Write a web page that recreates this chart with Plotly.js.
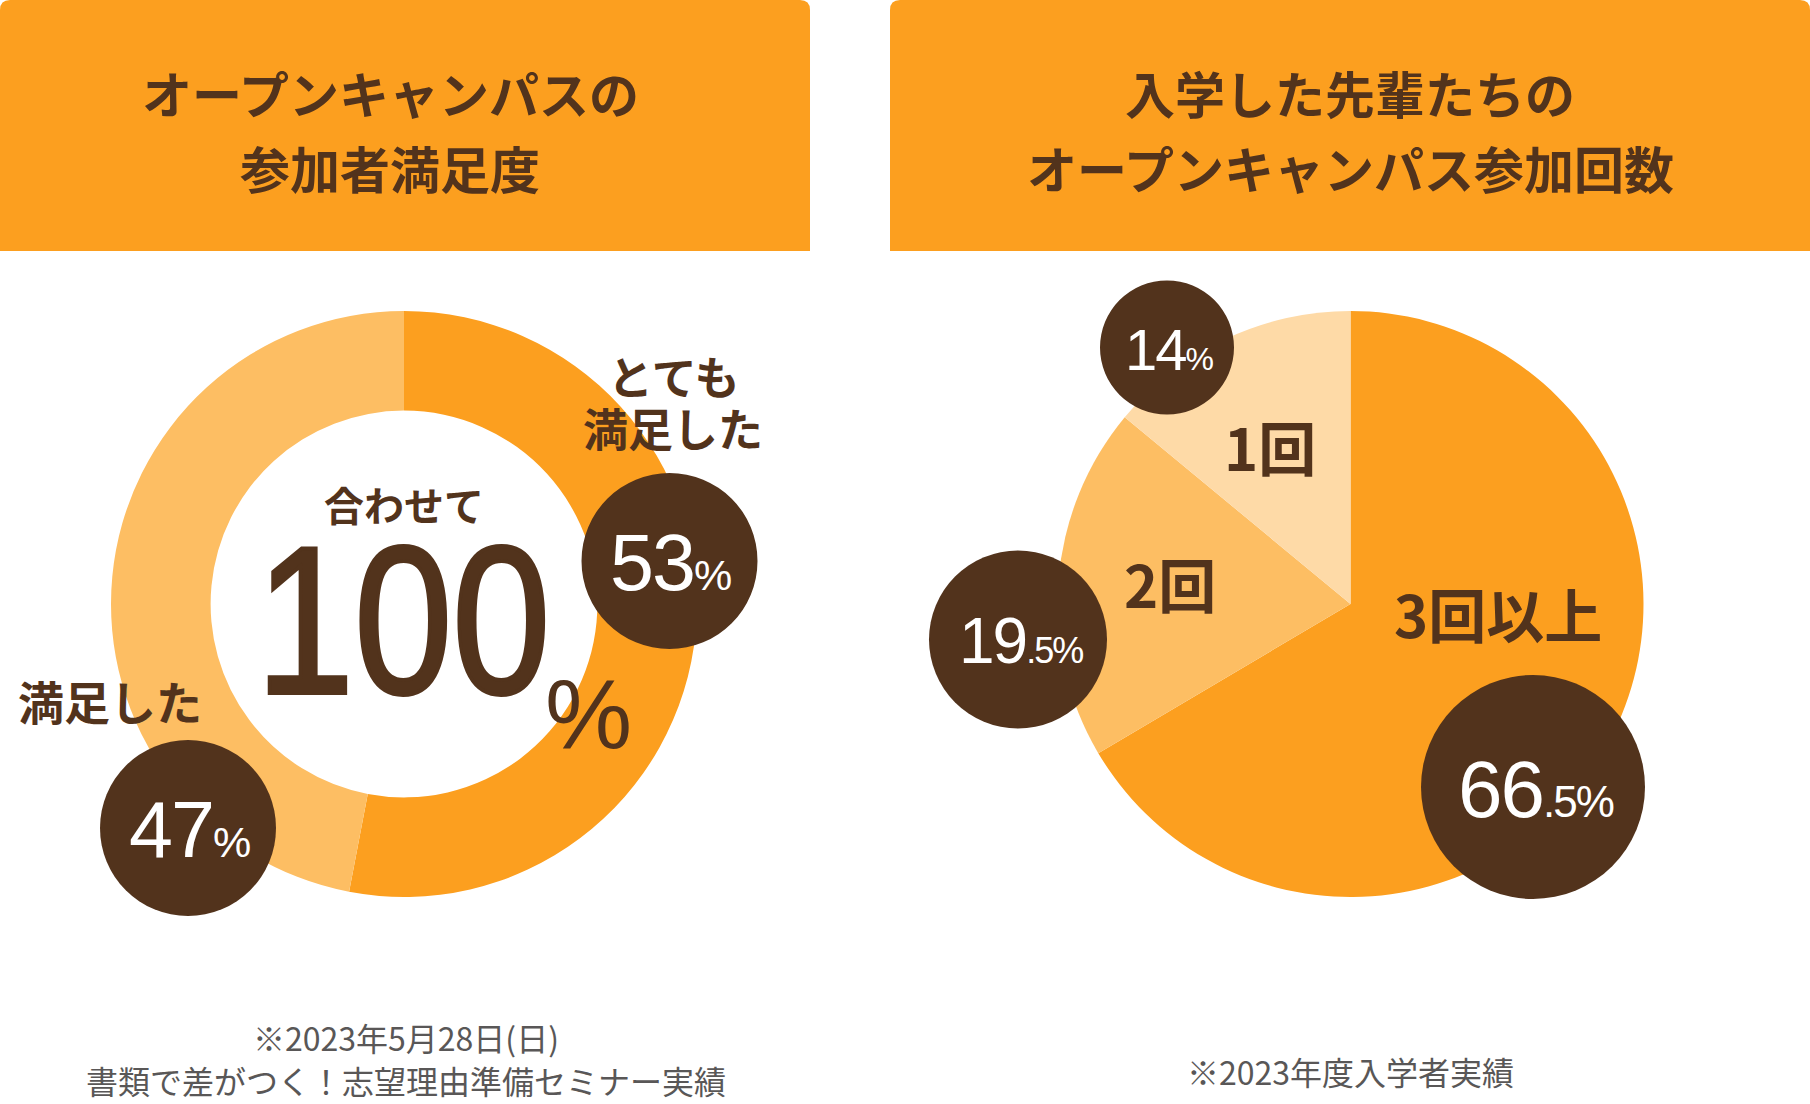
<!DOCTYPE html>
<html>
<head>
<meta charset="utf-8">
<script src="https://cdn.plot.ly/plotly-3.0.1.min.js"></script>
<style>
  html, body { margin: 0; padding: 0; background: #ffffff; }
  #chart { width: 1810px; height: 1104px; }
</style>
</head>
<body>
<div id="chart"></div>
<script>
// ---------------- DATA ----------------
const leftTitleLines = ['オープンキャンパスの', '参加者満足度'];
const rightTitleLines = ['入学した先輩たちの', 'オープンキャンパス参加回数'];

const satisfactionLabels = ['とても満足した', '満足した'];
const satisfactionValues = [53, 47];
const totalCaption = '合わせて';

const visitLabels = ['3回以上', '2回', '1回'];
const visitValues = [66.5, 19.5, 14];

const leftNotes = ['※2023年5月28日(日)', '書類で差がつく！志望理由準備セミナー実績'];
const rightNotes = ['※2023年度入学者実績'];

// ---------------- STYLE ----------------
const W = 1810, H = 1104;
const BROWN = '#52331C';
const ORANGE = '#FC9F1F';
const LIGHT = '#FDBE63';
const LIGHTEST = '#FEDAA7';
const GRAY = '#595757';
const JP = '"Noto Sans CJK JP", "Noto Sans", sans-serif';
const NUM = '"Liberation Sans", Arial, Roboto, sans-serif';

const px = x => x / W;
const py = y => 1 - y / H;

function domainFor(cx, cy, r) {
  return { x: [px(cx - r), px(cx + r)], y: [py(cy + r), py(cy - r)] };
}

function pctHtml(v, small) {
  const s = String(v);
  const parts = s.split('.');
  const rest = (parts.length > 1 ? '.' + parts[1] : '') + '%';
  return parts[0] + '<span style="font-size:' + small + 'px">' + rest + '</span>';
}

function ann(text, x, y, size, color, family, weight, extra) {
  return Object.assign({
    text: text, x: px(x), y: py(y), xref: 'paper', yref: 'paper',
    xanchor: 'center', yanchor: 'middle', valign: 'middle', showarrow: false,
    font: { family: family, size: size, color: color, weight: weight }
  }, extra || {});
}

function roundTopRect(x0, y0, x1, y1, r) {
  const p = (x, y) => px(x) + ',' + py(y);
  return 'M ' + p(x0, y1) + ' L ' + p(x0, y0 + r) + ' Q ' + p(x0, y0) + ' ' + p(x0 + r, y0) +
    ' L ' + p(x1 - r, y0) + ' Q ' + p(x1, y0) + ' ' + p(x1, y0 + r) + ' L ' + p(x1, y1) + ' Z';
}

function circle(cx, cy, r) {
  return { type: 'circle', xref: 'paper', yref: 'paper', layer: 'above',
    x0: px(cx - r), x1: px(cx + r), y0: py(cy + r), y1: py(cy - r),
    fillcolor: BROWN, line: { width: 0 } };
}

// geometry
const leftPie = { cx: 404, cy: 604, r: 293 };
const rightPie = { cx: 1350.5, cy: 604, r: 293 };

// ---------------- TRACES ----------------
const traces = [
  {
    type: 'pie', labels: satisfactionLabels, values: satisfactionValues,
    hole: 0.66, sort: false, direction: 'clockwise', rotation: 0,
    marker: { colors: [ORANGE, LIGHT], line: { width: 0 } },
    textinfo: 'none', hoverinfo: 'label+percent', showlegend: false,
    domain: domainFor(leftPie.cx, leftPie.cy, leftPie.r)
  },
  {
    type: 'pie', labels: visitLabels, values: visitValues,
    sort: false, direction: 'clockwise', rotation: 0,
    marker: { colors: [ORANGE, LIGHT, LIGHTEST], line: { width: 0 } },
    textinfo: 'none', hoverinfo: 'label+percent', showlegend: false,
    domain: domainFor(rightPie.cx, rightPie.cy, rightPie.r)
  }
];

// ---------------- SHAPES ----------------
const shapes = [
  { type: 'path', xref: 'paper', yref: 'paper', layer: 'below', path: roundTopRect(0, 0, 810, 251, 10),
    fillcolor: ORANGE, line: { width: 0 } },
  { type: 'path', xref: 'paper', yref: 'paper', layer: 'below', path: roundTopRect(890, 0, 1810, 251, 10),
    fillcolor: ORANGE, line: { width: 0 } },
  circle(669.5, 561, 88),
  circle(188, 828, 88),
  circle(1167, 347.5, 67),
  circle(1018, 639.5, 89),
  circle(1533, 787, 112)
];

// ---------------- ANNOTATIONS ----------------
const total = satisfactionValues.reduce((a, b) => a + b, 0);
const topLine1 = satisfactionLabels[0].slice(0, 3);
const topLine2 = satisfactionLabels[0].slice(3);

const annotations = [
  ann(leftTitleLines[0], 390, 92, 50, BROWN, JP, 700),
  ann(leftTitleLines[1], 390, 167, 50, BROWN, JP, 700),
  ann(rightTitleLines[0], 1350, 92, 50, BROWN, JP, 700),
  ann(rightTitleLines[1], 1350, 167, 50, BROWN, JP, 700),

  ann(topLine1, 673, 375, 45, BROWN, JP, 700, { height: 52 }),
  ann(topLine2, 673, 427, 45, BROWN, JP, 700, { height: 52 }),
  ann(satisfactionLabels[1], 110, 700, 46, BROWN, JP, 700),
  ann(totalCaption, 404, 504, 40, BROWN, JP, 700, { height: 46 }),
  ann(String(total), 403, 620, 210, BROWN, NUM, 400, { height: 176 }),
  ann('%', 588, 714, 98, BROWN, NUM, 400),

  ann(pctHtml(satisfactionValues[0], 43), 670, 562, 79, '#ffffff', NUM, 400),
  ann(pctHtml(satisfactionValues[1], 43), 189, 829, 79, '#ffffff', NUM, 400),

  ann(pctHtml(visitValues[2], 32), 1168, 349, 58, '#ffffff', NUM, 400),
  ann(pctHtml(visitValues[1], 36), 1020, 641, 64, '#ffffff', NUM, 400),
  ann(pctHtml(visitValues[0], 44), 1535, 789, 80, '#ffffff', NUM, 400),

  ann(visitLabels[2], 1270, 446, 58, BROWN, JP, 700),
  ann(visitLabels[1], 1170, 583, 58, BROWN, JP, 700),
  ann(visitLabels[0], 1498, 613, 58, BROWN, JP, 700),

  ann(leftNotes[0], 406, 1037, 32, GRAY, JP, 400),
  ann(leftNotes[1], 406, 1080, 32, GRAY, JP, 400),
  ann(rightNotes[0], 1350, 1071, 32, GRAY, JP, 400)
];
const bigIndex = 8;
const circleTextIdx = [10, 11, 12, 13, 14];

const layout = {
  width: W, height: H,
  margin: { l: 0, r: 0, t: 0, b: 0, pad: 0 },
  paper_bgcolor: '#ffffff', plot_bgcolor: '#ffffff',
  showlegend: false,
  shapes: shapes,
  annotations: annotations
};

const gd = document.getElementById('chart');
Plotly.newPlot(gd, traces, layout, { displayModeBar: false, staticPlot: true }).then(function () {
  const t = gd.querySelector('g.annotation[data-index="' + bigIndex + '"] text.annotation-text');
  if (t) {
    t.style.transformBox = 'fill-box';
    t.style.transformOrigin = 'center';
    t.style.transform = 'scaleX(0.84)';
    t.style.stroke = BROWN;
    t.style.strokeWidth = '4px';
  }
  circleTextIdx.forEach(function (i) {
    const el = gd.querySelector('g.annotation[data-index="' + i + '"] text.annotation-text');
    if (el) el.style.letterSpacing = '-2px';
  });
});
</script>
</body>
</html>
